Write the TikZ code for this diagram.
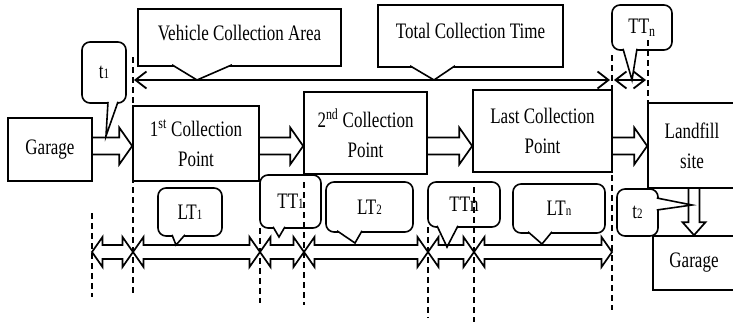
\documentclass[tikz,border=0pt]{standalone}
\usepackage{fontspec}
\setmainfont{Liberation Serif}
\usepackage{graphicx}
\usetikzlibrary{calc,arrows.meta}

\newcommand{\tallt}[1]{\scalebox{1}[1.3]{#1}}
\newcommand{\smallidx}[1]{{\fontsize{11}{11}\selectfont #1}}
% hollow block arrow, left to right, tip at #2
\newcommand{\flowarrow}[2]{\draw[hollow] ($(#1)+(0,-8.5)$) -- ($(#2)+(-13,-8.5)$) -- ($(#2)+(-13,-18.5)$) -- (#2) -- ($(#2)+(-13,18.5)$) -- ($(#2)+(-13,8.5)$) -- ($(#1)+(0,8.5)$);}
% hollow block arrow, top to bottom, tip at #2
\newcommand{\droparrow}[2]{\draw[hollow] ($(#1)+(-5.5,0)$) -- ($(#2)+(-5.5,-13)$) -- ($(#2)+(-11.5,-13)$) -- (#2) -- ($(#2)+(11.5,-13)$) -- ($(#2)+(5.5,-13)$) -- ($(#1)+(5.5,0)$);}
% hollow double headed arrow of the time line
\newcommand{\lanearrow}[2]{\draw[hollow] ($(#1)+(10.5,-7)$) -- ($(#2)+(-10.5,-7)$) -- ($(#2)+(-10.5,-15)$) -- (#2) -- ($(#2)+(-10.5,15)$) -- ($(#2)+(-10.5,7)$) -- ($(#1)+(10.5,7)$) -- ($(#1)+(10.5,15)$) -- (#1) -- ($(#1)+(10.5,-15)$) -- cycle;}

\tikzset{
	box/.style={draw, line width=1.6pt, rectangle, align=center, inner sep=0pt},
	banner/.style={draw, line width=1.6pt, fill=white, rectangle, inner sep=0pt, text depth=10pt},
	note/.style={draw, line width=1.6pt, fill=white, rounded corners=8pt, align=center, inner sep=0pt},
	pointer/.style={draw, line width=1.6pt, fill=white, line join=miter},
	hollow/.style={line width=1.7pt, line join=miter},
	span/.style={line width=1.8pt, {Straight Barb[length=11pt,width=17pt]}-{Straight Barb[length=11pt,width=17pt]}},
	guide/.style={line width=1.3pt, dash pattern=on 6pt off 4pt}
}

\begin{document}
\begin{tikzpicture}[x=1pt, y=-1pt, every node/.style={font=\fontsize{17}{30}\selectfont}]
	%%%%% START %%%%%
	\useasboundingbox (0,0) rectangle (733,322);
	\clip (0,0) rectangle (733,322);
	
	% stations
	\node[box, minimum width=84pt, minimum height=63pt] (garage) at (50,149.5) {\tallt{Garage}};
	\node[box, minimum width=126pt, minimum height=75pt] (cp1) at (196,143.5) {\tallt{1\textsuperscript{st} Collection}\\\tallt{Point}};
	\node[box, minimum width=123pt, minimum height=82pt] (cp2) at (365.5,133) {\tallt{2\textsuperscript{nd} Collection}\\\tallt{Point}};
	\node[box, minimum width=139pt, minimum height=82pt] (cp3) at (542.5,131) {\tallt{Last Collection}\\\tallt{Point}};
	\node[box, minimum width=88pt, minimum height=85pt] (landfill) at (692,145.5) {\tallt{Landfill}\\\tallt{site}};
	\node[box, minimum width=82pt, minimum height=54pt] (garage2) at (694,263) {\tallt{Garage}};
	
	\coordinate (flow) at (0,146);
	\flowarrow{garage.east |- flow}{cp1.west |- flow}
	\flowarrow{cp1.east |- flow}{cp2.west |- flow}
	\flowarrow{cp2.east |- flow}{cp3.west |- flow}
	\flowarrow{cp3.east |- flow}{landfill.west |- flow}
	
	% top spans
	\coordinate (s0) at (134,80);
	\coordinate (s1) at (610,80);
	\coordinate (s2) at (614,80);
	\coordinate (s3) at (646,80);
	\draw[span] (s0) -- (s1);
	\draw[span] (s2) -- (s3);
	
	\node[banner, minimum width=203pt, minimum height=57pt] (vca) at (239.5,37.5) {\tallt{Vehicle Collection Area}};
	\coordinate (vcatip) at (197,80);
	\draw[pointer] ([xshift=-67.5pt,yshift=2pt]vca.south) -- (vcatip) -- ([xshift=-7.5pt,yshift=2pt]vca.south);
	
	\node[banner, minimum width=185pt, minimum height=62pt] (tct) at (470.5,36) {\tallt{Total Collection Time}};
	\coordinate (tcttip) at (434,80);
	\draw[pointer] ([xshift=-60.5pt,yshift=2pt]tct.south) -- (tcttip) -- ([xshift=-15.5pt,yshift=2pt]tct.south);
	
	\node[note, minimum width=60pt, minimum height=45pt] (ttlast) at (642,27.5) {\tallt{TT\textsubscript{n}}};
	\coordinate (ttlasttip) at (632,80);
	\draw[pointer] ([xshift=-19pt,yshift=2pt]ttlast.south) -- (ttlasttip) -- ([xshift=-5pt,yshift=2pt]ttlast.south);
	
	\node[note, minimum width=44pt, minimum height=61pt] (t1) at (104,72.5) {\tallt{t\smallidx{1}}};
	\coordinate (t1tip) at (106,136);
	\draw[pointer] ([xshift=4pt,yshift=2pt]t1.south) -- (t1tip) -- ([xshift=14pt,yshift=2pt]t1.south);
	
	% waiting and travel times
	\node[note, minimum width=64pt, minimum height=48pt] (lt1) at (190,212) {\tallt{LT\smallidx{1}}};
	\coordinate (lt1tip) at (176,245);
	\draw[pointer] ([xshift=-18pt,yshift=2pt]lt1.south) -- (lt1tip) -- ([xshift=-5pt,yshift=2pt]lt1.south);
	
	\node[note, minimum width=61pt, minimum height=53pt] (tt1) at (290.5,201.5) {\tallt{TT\smallidx{1}}};
	\coordinate (tt1tip) at (279,237);
	\draw[pointer] ([xshift=-17.5pt,yshift=2pt]tt1.south) -- (tt1tip) -- ([xshift=-5.5pt,yshift=2pt]tt1.south);
	
	\node[note, minimum width=87pt, minimum height=50pt] (lt2) at (369.5,207) {\tallt{LT\smallidx{2}}};
	\coordinate (lt2tip) at (355,243);
	\draw[pointer] ([xshift=-32.5pt,yshift=2pt]lt2.south) -- (lt2tip) -- ([xshift=-7.5pt,yshift=2pt]lt2.south);
	
	\node[note, minimum width=72pt, minimum height=45pt] (ttn) at (464,204.5) {\tallt{TTn}};
	\coordinate (ttntip) at (447,247);
	\draw[pointer] ([xshift=-27pt,yshift=2pt]ttn.south) -- (ttntip) -- ([xshift=-6pt,yshift=2pt]ttn.south);
	
	\node[note, minimum width=92pt, minimum height=49pt] (ltn) at (559,208.5) {\tallt{LT\smallidx{n}}};
	\coordinate (ltntip) at (542,244);
	\draw[pointer] ([xshift=-31pt,yshift=2pt]ltn.south) -- (ltntip) -- ([xshift=-7pt,yshift=2pt]ltn.south);
	
	\node[note, minimum width=41pt, minimum height=47pt] (t2) at (637.5,212.5) {\tallt{t\smallidx{2}}};
	\coordinate (t2tip) at (692,205);
	\draw[pointer] ([xshift=-2pt,yshift=14.5pt]t2.east) -- (t2tip) -- ([xshift=-2pt,yshift=2.5pt]t2.east);
	
	\coordinate (drop) at (694,0);
	\droparrow{landfill.south -| drop}{garage2.north -| drop}
	
	% time line
	\foreach \i/\x in {0/92,1/133,2/260,3/304,4/428,5/474,6/612}
		\coordinate (m\i) at (\x,252);
	\foreach \a/\b in {0/1,1/2,2/3,3/4,4/5,5/6}
		{\lanearrow{m\a}{m\b}}
	
	% dashed marks
	\foreach \x/\ya/\yb in {92/213/297, 133/57/293, 260/228/303, 304/182/305, 428/227/318, 474/187/322, 612/55/310, 648/40/102}
		\draw[guide] (\x,\ya) -- (\x,\yb);
	
	%%%%% END %%%%%
\end{tikzpicture}
\end{document}
